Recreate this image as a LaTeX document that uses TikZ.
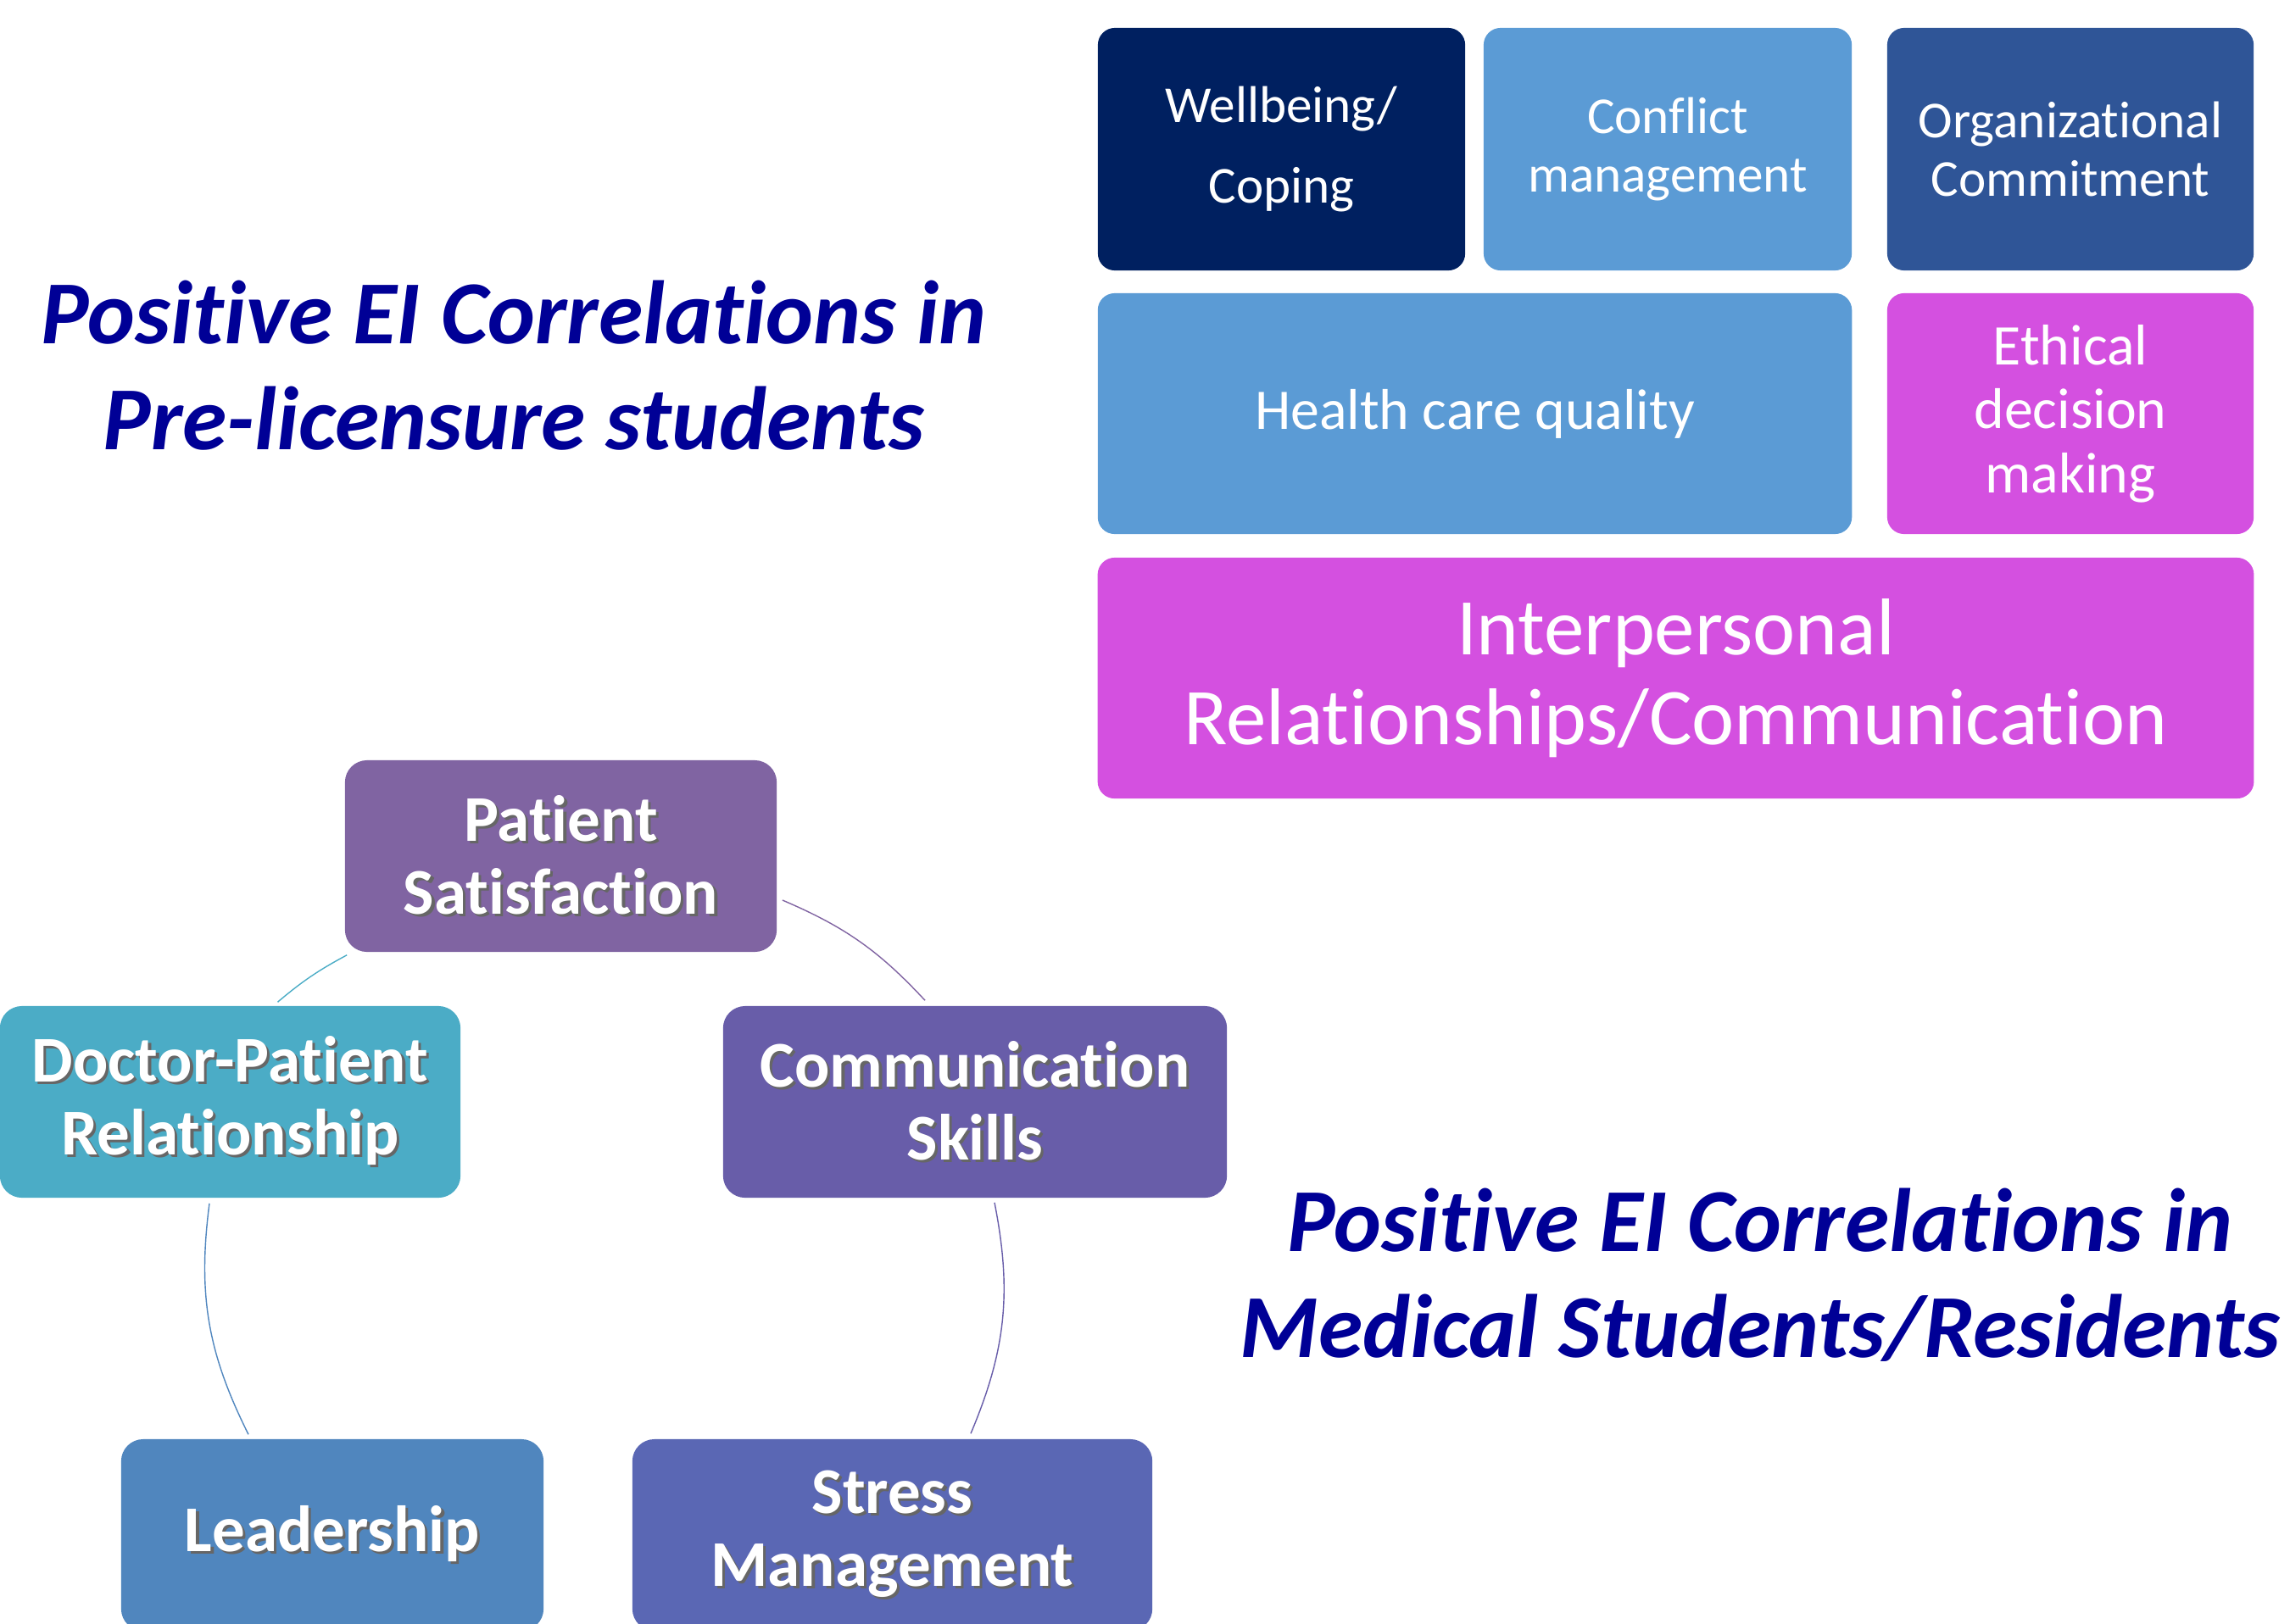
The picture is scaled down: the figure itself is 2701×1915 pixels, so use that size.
\documentclass[tikz,border=0pt]{standalone}
\usepackage{fontspec}
\setmainfont{Carlito}[Ligatures=CommonOff]
\definecolor{cWell}{HTML}{002060}
\definecolor{cLight}{HTML}{5B9BD5}
\definecolor{cOrg}{HTML}{2F5597}
\definecolor{cMag}{HTML}{D450E0}
\definecolor{cTitle}{RGB}{0,0,150}
\definecolor{cPS}{HTML}{8064A2}
\definecolor{cDP}{HTML}{4BACC6}
\definecolor{cCS}{HTML}{685DA9}
\definecolor{cLD}{HTML}{5086BE}
\definecolor{cSM}{HTML}{5A67B4}
\newcommand{\shtxt}[1]{\leavevmode\rlap{\kern0.9pt\raisebox{-0.9pt}{\color{black!60}#1}}#1}
\begin{document}
\begin{tikzpicture}[x=0.01cm,y=-0.01cm,
  tbox/.style={rectangle, rounded corners=0.2cm, text=white, align=center, inner sep=0pt},
  rowone/.style={tbox, minimum height=2.86cm, font=\fontsize{17.4}{19.6}\selectfont},
  rowtwo/.style={tbox, minimum height=2.84cm, font=\fontsize{19.3}{21.5}\selectfont},
  bbox/.style={rectangle, rounded corners=0.26cm, text=white, align=center, inner sep=0pt,
    minimum height=2.26cm, font=\bfseries\fontsize{21.9}{24.5}\selectfont},
  ttl/.style={text=cTitle, inner sep=0pt, anchor=base, font=\bfseries\itshape\fontsize{30.2}{35.8}\selectfont},
  cyc/.style={line width=0.4pt}
]
\useasboundingbox (0,0) rectangle (2701,1915);
\clip (0,0) rectangle (2701,1915);

% top-right blocks
\node[rowone, fill=cWell, minimum width=4.33cm, font=\fontsize{17.4}{27}\selectfont] (well) at (1511.5,176) {Wellbeing/\\Coping};
\node[rowone, fill=cLight, minimum width=4.34cm] (conf) at (1967,176) {Conflict\\management};
\node[rowone, fill=cOrg, minimum width=4.32cm] (org) at (2442,176) {Organizational\\Commitment};
\node[rowtwo, fill=cLight, minimum width=8.89cm] (hcq) at (1739.5,488) {Health care quality};
\node[rowtwo, fill=cMag, minimum width=4.32cm] (eth) at (2442,488) {Ethical\\decision\\making};
\node[tbox, fill=cMag, minimum width=13.63cm, minimum height=2.84cm, font=\fontsize{27}{30}\selectfont] (ipr) at (1976.5,800) {Interpersonal\\Relationships/Communication};

% titles
\node[ttl] (t1) at (606,405) {\begin{tabular}[t]{@{}c@{}}Positive EI Correlations in\\Pre-licensure students\end{tabular}};
\node[ttl] (t2) at (2076,1476) {\begin{tabular}[t]{@{}c@{}}Positive EI Correlations in\\Medical Students/Residents\end{tabular}};

% cycle
\node[bbox, fill=cPS, minimum width=5.09cm] (ps) at (661.5,1010) {\shtxt{Patient}\\\shtxt{Satisfaction}};
\node[bbox, fill=cDP, minimum width=5.43cm] (dp) at (271.5,1300) {\shtxt{Doctor-Patient}\\\shtxt{Relationship}};
\node[bbox, fill=cCS, minimum width=5.94cm] (cs) at (1150,1300) {\shtxt{Communication}\\\shtxt{Skills}};
\node[bbox, fill=cLD, minimum width=4.98cm] (ld) at (392,1811) {\shtxt{Leadership}};
\node[bbox, fill=cSM, minimum width=6.13cm] (sm) at (1052.5,1811) {\shtxt{Stress}\\\shtxt{Management}};

\draw[cyc, draw=cDP] ([shift={(56,-4)}]dp.north) to[bend left=6] ([shift={(3,3)}]ps.south west);
\draw[cyc, draw=cPS] ([shift={(6,52)}]ps.east) to[bend left=12] ([shift={(-59,-6)}]cs.north);
\draw[cyc, draw=cCS] ([shift={(23,5)}]cs.south) to[bend left=17] ([shift={(92.5,-6)}]sm.north);
\draw[cyc, draw=cLD] ([shift={(-24.5,6)}]dp.south) to[bend right=17] ([shift={(-99,-5)}]ld.north);
\end{tikzpicture}
\end{document}
